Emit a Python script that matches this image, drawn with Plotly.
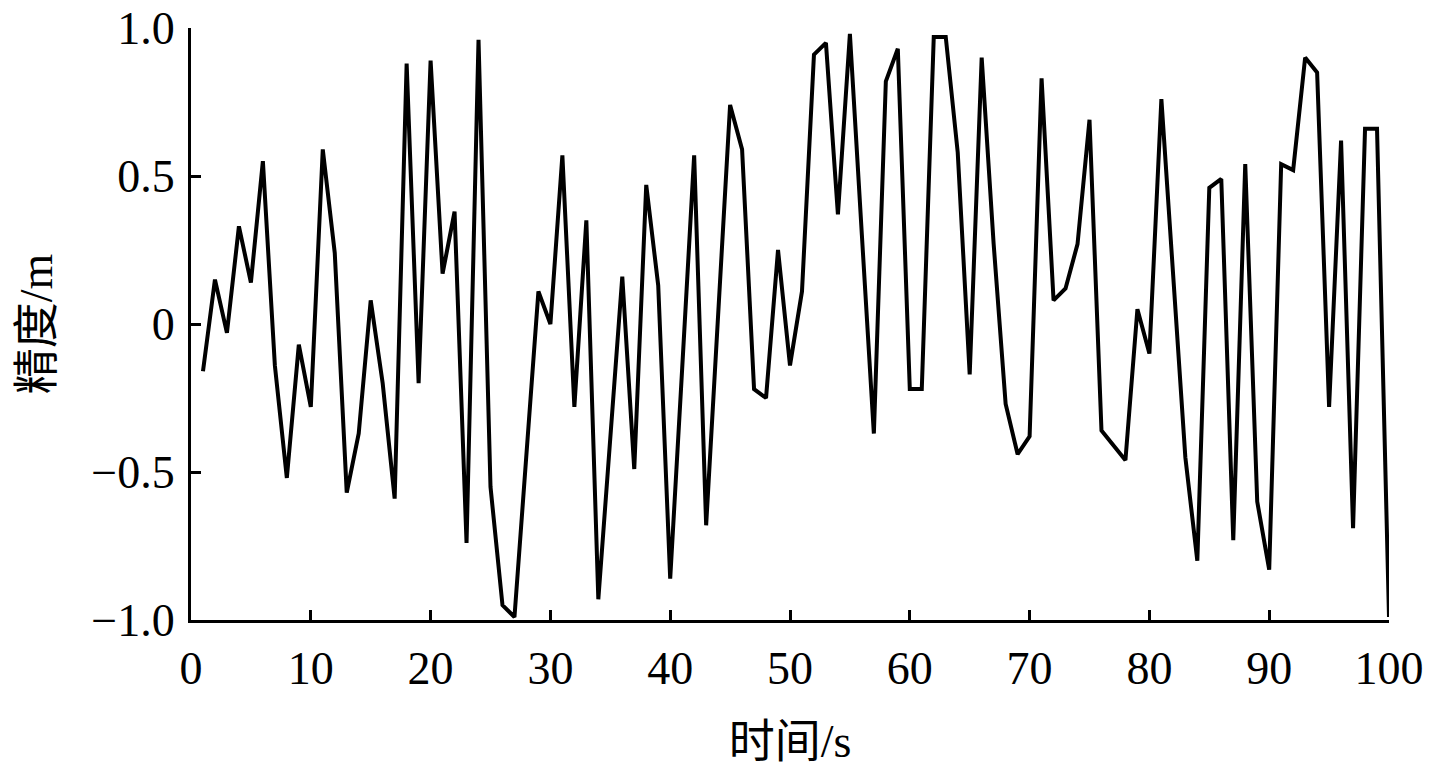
import plotly.graph_objects as go

time_s = list(range(1, 101))
accuracy_m = [
    -0.16, 0.15, -0.03, 0.33, 0.14, 0.55, -0.14, -0.52, -0.07, -0.28,
    0.59, 0.24, -0.57, -0.37, 0.08, -0.20, -0.59, 0.88, -0.20, 0.89,
    0.17, 0.38, -0.74, 0.96, -0.55, -0.95, -0.99, -0.45, 0.11, 0.00,
    0.57, -0.28, 0.35, -0.93, -0.40, 0.16, -0.49, 0.47, 0.13, -0.86,
    -0.15, 0.57, -0.68, 0.03, 0.74, 0.59, -0.22, -0.25, 0.25, -0.14,
    0.11, 0.91, 0.95, 0.37, 0.98, 0.30, -0.37, 0.82, 0.93, -0.22,
    -0.22, 0.97, 0.97, 0.58, -0.17, 0.90, 0.27, -0.27, -0.44, -0.38,
    0.83, 0.08, 0.12, 0.27, 0.69, -0.36, -0.41, -0.46, 0.05, -0.10,
    0.76, 0.16, -0.45, -0.80, 0.46, 0.49, -0.73, 0.54, -0.60, -0.83,
    0.54, 0.52, 0.90, 0.85, -0.28, 0.62, -0.69, 0.66, 0.66, -0.99,
]

x_tickvals = [0, 10, 20, 30, 40, 50, 60, 70, 80, 90, 100]
x_ticktext = [str(v) for v in x_tickvals]
y_tickvals = [-1.0, -0.5, 0, 0.5, 1.0]
y_ticktext = ["\u22121.0", "\u22120.5", "0", "0.5", "1.0"]

font_family = "Liberation Serif, Times New Roman, Noto Sans CJK SC, serif"

fig = go.Figure()
fig.add_trace(go.Scatter(
    x=time_s, y=accuracy_m, mode="lines",
    line=dict(color="black", width=4),
    showlegend=False,
))

axis_common = dict(
    showgrid=False, zeroline=False,
    showline=True, linecolor="black", linewidth=3,
    ticks="inside", ticklen=10, tickwidth=3, tickcolor="black",
    tickfont=dict(family=font_family, size=46, color="black"),
    mirror=False, automargin=False, ticklabeloverflow="allow",
)

fig.update_xaxes(
    range=[0, 100], tickvals=x_tickvals, ticktext=x_ticktext,
    title=dict(text="时间/s", font=dict(family=font_family, size=46, color="black"), standoff=32),
    ticklabelstandoff=6,
    **axis_common,
)
fig.update_yaxes(
    range=[-1, 1], tickvals=y_tickvals, ticktext=y_ticktext,
    title=dict(text="精度/m", font=dict(family=font_family, size=46, color="black"), standoff=25),
    ticklabelstandoff=4,
    **axis_common,
)

fig.update_layout(
    width=1438, height=776,
    margin=dict(l=191, r=49, t=28, b=156),
    paper_bgcolor="white", plot_bgcolor="white",
    font=dict(family=font_family, color="black"),
)

fig.write_html(
    "out.html",
    config={"displayModeBar": False},
    post_script="document.body.style.margin='0';document.body.style.overflow='hidden';",
)
